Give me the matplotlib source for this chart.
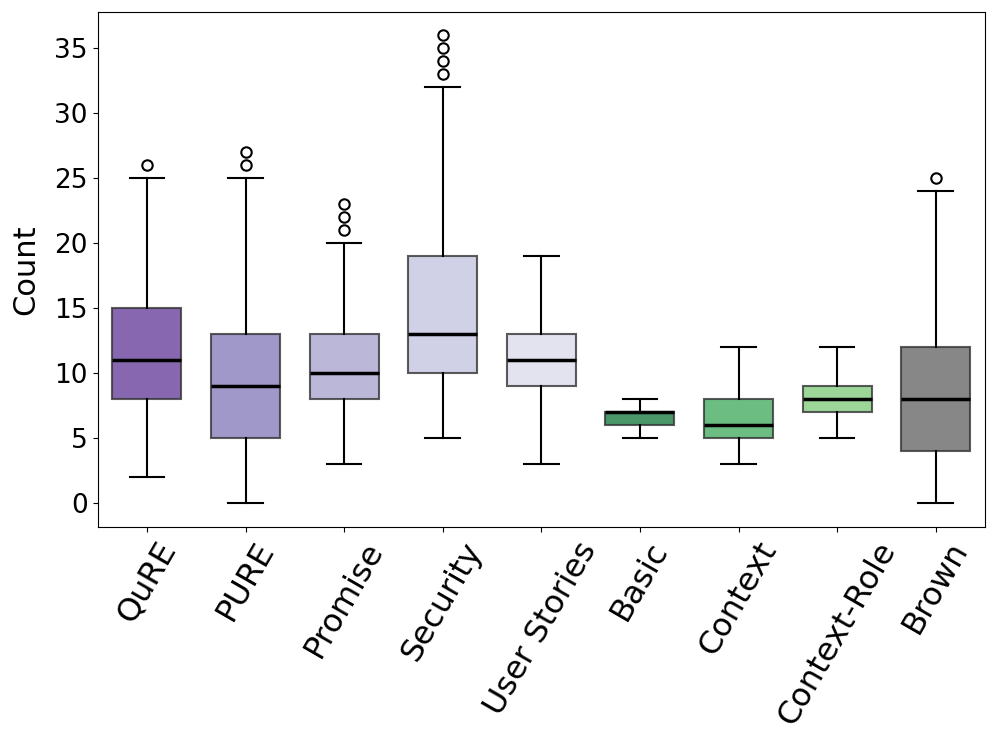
import matplotlib
matplotlib.use("Agg")
from matplotlib import pyplot as plt

labels = ["QuRE", "PURE", "Promise", "Security", "User Stories",
          "Basic", "Context", "Context-Role", "Brown"]
whislo = [2, 0, 3, 5, 3, 5, 3, 5, 0]
q1 = [8, 5, 8, 10, 9, 6, 5, 7, 4]
med = [11, 9, 10, 13, 11, 7, 6, 8, 8]
q3 = [15, 13, 13, 19, 13, 7, 8, 9, 12]
whishi = [25, 25, 20, 32, 19, 8, 12, 12, 24]
fliers = [[26], [26, 27], [21, 22, 23], [33, 34, 35, 36], [], [], [], [], [25]]
colors = ["#8767af", "#9f98c8", "#bbb7d9", "#d0d0e6", "#e3e2ef",
          "#4a9669", "#6cbd82", "#9dd699", "#878787"]

stats = []
for i in range(len(labels)):
    stats.append({"label": labels[i], "whislo": whislo[i], "q1": q1[i],
                  "med": med[i], "q3": q3[i], "whishi": whishi[i],
                  "fliers": fliers[i]})

fig, ax = plt.subplots(figsize=(9.96, 7.44), dpi=100)
fig.subplots_adjust(left=0.098, right=0.989, top=0.984, bottom=0.292)

bp = ax.bxp(stats, widths=0.7, patch_artist=True,
            boxprops=dict(edgecolor=(0.2, 0.2, 0.2, 0.8), linewidth=1.5),
            medianprops=dict(color="black", linewidth=2.5),
            whiskerprops=dict(color="black", linewidth=1.5),
            capprops=dict(color="black", linewidth=1.5),
            flierprops=dict(marker="o", markerfacecolor="white",
                            markeredgecolor="black", markersize=7.5,
                            markeredgewidth=1.5))
for patch, c in zip(bp["boxes"], colors):
    patch.set_facecolor(c)

ax.set_ylabel("Count", fontsize=22, labelpad=10)
ax.tick_params(axis="y", labelsize=19)
ax.tick_params(axis="x", labelsize=23)
plt.setp(ax.get_xticklabels(), rotation=60, ha="center")

plt.savefig("out.png")
